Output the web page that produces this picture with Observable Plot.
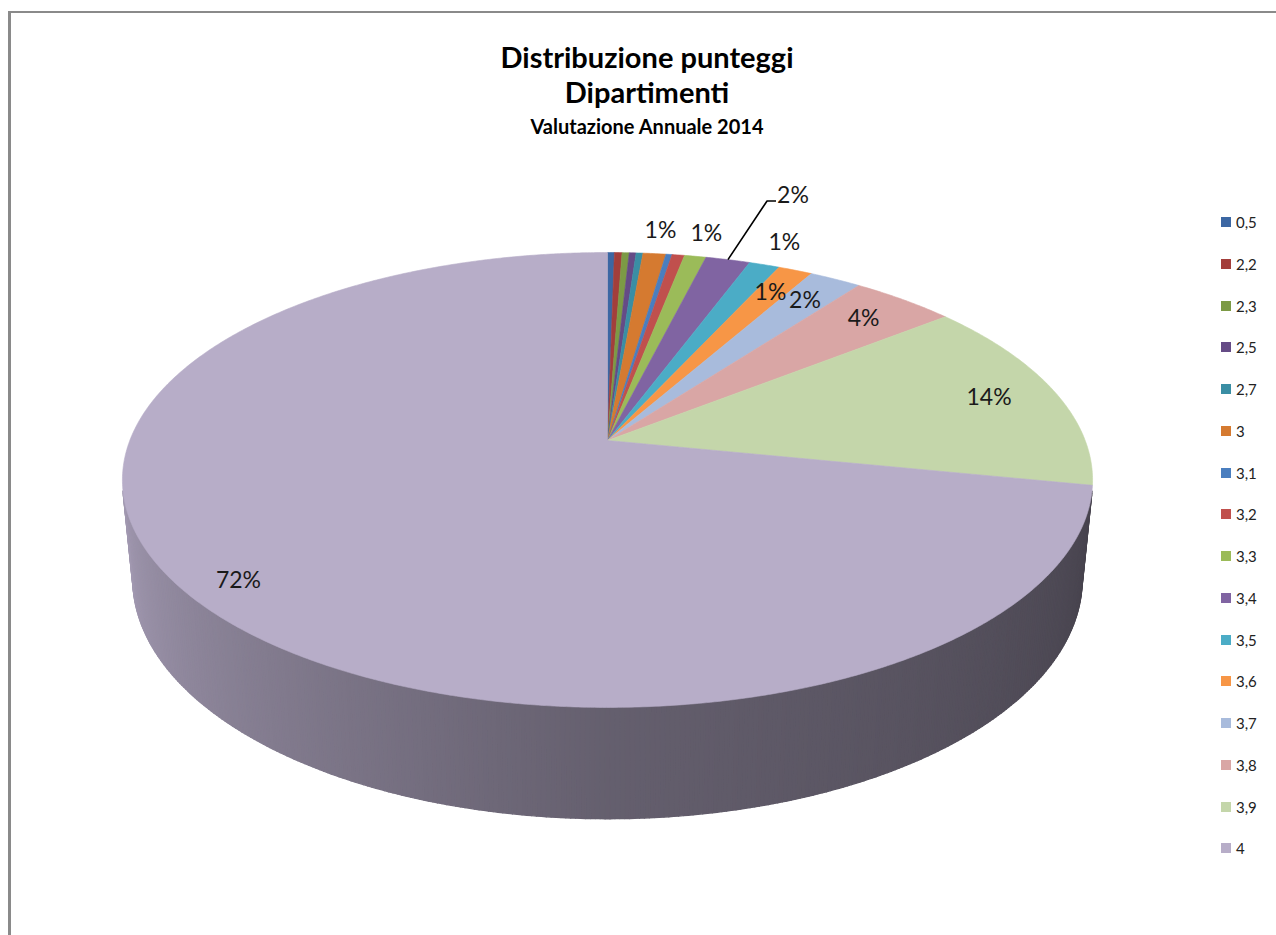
<!DOCTYPE html>
<html>
<head>
<meta charset="utf-8">
<script src="https://cdn.jsdelivr.net/npm/d3@7"></script>
<script src="https://cdn.jsdelivr.net/npm/@observablehq/plot@0.6"></script>
<style>
  html, body { margin: 0; padding: 0; background: #fff; }
  body { font-family: Lato, "Open Sans", "DejaVu Sans", sans-serif; color: #000; }
  #wrap { position: relative; width: 1276px; height: 935px; overflow: hidden; }
  #frame { position: absolute; left: 8px; top: 11px; width: 1400px; height: 1100px;
           border-left: 3px solid #8a8a8a; border-top: 2px solid #8a8a8a; box-sizing: border-box; }
  #chart { position: absolute; left: 0; top: 0; }
  .title { position: absolute; left: 0; width: 1294px; text-align: center; font-weight: bold; white-space: nowrap; }
  #t1 { top: 38px; font-size: 29px; line-height: 38px; }
  #t2 { top: 73px; font-size: 29px; line-height: 38px; }
  #t3 { top: 114px; font-size: 20px; line-height: 24px; }
  .lg { position: absolute; left: 1221px; height: 16px; display: flex; align-items: center; font-size: 15px; color: #222; }
  .lg i { display: inline-block; width: 10px; height: 10px; margin-right: 5px; }
</style>
</head>
<body>
<div id="wrap">
  <div id="frame"></div>
  <div id="chart"></div>
  <div class="title" id="t1">Distribuzione punteggi</div>
  <div class="title" id="t2">Dipartimenti</div>
  <div class="title" id="t3">Valutazione Annuale 2014</div>
  <div id="legend"></div>
</div>
<script>
// ---- data ----
const categories = ["0,5","2,2","2,3","2,5","2,7","3","3,1","3,2","3,3","3,4","3,5","3,6","3,7","3,8","3,9","4"];
const shares = [0.27, 0.30, 0.28, 0.27, 0.27, 0.90, 0.24, 0.49, 0.85, 1.75, 1.20, 1.35, 2.05, 4.10, 13.80, 71.80];
const colors = ["#3c67a3","#a33e3b","#7c9a45","#654b86","#3a8ea4","#d57a30",
                "#4a7ebf","#c0504d","#9bbb59","#8064a2","#4bacc6","#f79646",
                "#a8bbdc","#d9a6a5","#c4d6aa","#b7adc8"];
const outsideLabels = ["3","3,3","3,5"];
const leaderLabels = ["3,4"];

// ---- 3D perspective geometry ----
const deg = Math.PI / 180;
const alpha = 27.5 * deg;      // camera elevation
const D = 5.11;                // camera distance (in pie radii)
const T = 0.236;               // pie thickness (in pie radii)
const ca = Math.cos(alpha), sa = Math.sin(alpha);

function topUV(phi, r) {
  const X = r * Math.cos(phi), Y = r * Math.sin(phi);
  const w = D + Y * ca;
  return [X * D / w, Y * D / w];
}
function botUV(phi) {
  const X = Math.cos(phi), Y = Math.sin(phi);
  const w = D + Y * ca + T * sa;
  return [X * D / w, D * (Y * sa - T * ca) / (sa * w)];
}
const phiOf = a => Math.PI / 2 - a; // pie angle (clockwise from top) -> math angle

const rows = categories.map((c, i) => ({cat: c, value: shares[i], color: colors[i]}));
const total = d3.sum(rows, d => d.value);
const arcs = d3.pie().sort(null).value(d => d.value)(rows);

// top surface polygons
const topPts = [];
arcs.forEach((a, i) => {
  const id = "t" + i;
  topPts.push({id, color: a.data.color, u: 0, v: 0});
  const n = Math.max(2, Math.ceil((a.endAngle - a.startAngle) / (0.4 * deg)));
  for (let k = 0; k <= n; k++) {
    const ang = a.startAngle + (a.endAngle - a.startAngle) * k / n;
    const [u, v] = topUV(phiOf(ang), 1);
    topPts.push({id, color: a.data.color, u, v});
  }
  topPts.push({id, color: a.data.color, u: 0, v: 0});
});

// side wall (visible part between silhouettes)
const phiSil = Math.asin(-1 / (D * ca));          // right silhouette
const aStart = Math.PI / 2 - phiSil;              // pie angle, right
const aEnd = Math.PI / 2 - (-Math.PI - phiSil);   // pie angle, left
const breaks = d3.range(aStart, aEnd, 0.5 * deg).concat([aEnd]);
arcs.forEach(a => { [a.startAngle, a.endAngle].forEach(b => { if (b > aStart && b < aEnd) breaks.push(b); }); });
breaks.sort((p, q) => p - q);
const shade = d3.scaleLinear().domain([-167.25, -90, -12.75]).range([0.88, 0.55, 0.385]).clamp(true);
const wallPts = [];
for (let k = 0; k < breaks.length - 1; k++) {
  const a1 = breaks[k], a2 = breaks[k + 1];
  if (a2 - a1 < 1e-6) continue;
  const mid = (a1 + a2) / 2;
  const sl = arcs.find(a => mid >= a.startAngle && mid < a.endAngle) || arcs[arcs.length - 1];
  const f = shade(phiOf(mid) / deg);
  const c = d3.rgb(sl.data.color);
  const col = d3.rgb(c.r * f, c.g * f, c.b * f).formatHex();
  const id = "w" + k;
  const p1 = topUV(phiOf(a1), 1), p2 = topUV(phiOf(a2), 1), q2 = botUV(phiOf(a2)), q1 = botUV(phiOf(a1));
  [p1, p2, q2, q1, p1].forEach(([u, v]) => wallPts.push({id, color: col, u, v}));
}

// labels
const labels = [];
const leader = [];
arcs.forEach(a => {
  const pct = Math.round(a.data.value / total * 100);
  if (pct < 1) return;
  const phi = phiOf((a.startAngle + a.endAngle) / 2);
  const text = pct + "%";
  if (leaderLabels.includes(a.data.cat)) {
    const [u0, v0] = topUV(phi, 1.0);
    const [u1, v1] = topUV(phi, 1.40);
    leader.push({u: u0, v: v0}, {u: u1, v: v1}, {u: u1 + 9 / 477.7, v: v1});
    labels.push({u: u1, v: v1, text, anchor: "start"});
  } else if (outsideLabels.includes(a.data.cat)) {
    const [u, v] = topUV(phi, 1.15);
    labels.push({u, v, text, anchor: "middle"});
  } else {
    const r = a.data.value / total > 0.5 ? 0.9 : 0.85;
    const [u, v] = topUV(phi, r);
    labels.push({u, v, text, anchor: "middle"});
  }
});

const cx = 607, cy = 440, sx = 477.7, sy = 220.6;
const chart = Plot.plot({
  width: 1276,
  height: 935,
  margin: 0,
  style: {background: "transparent", fontFamily: "Lato, 'Open Sans', sans-serif"},
  x: {domain: [-1, 1], range: [cx - sx, cx + sx], axis: null},
  y: {domain: [-1, 1], range: [cy + sy, cy - sy], axis: null},
  color: {type: "identity"},
  marks: [
    Plot.line(wallPts, {x: "u", y: "v", z: "id", fill: "color", stroke: "color", strokeWidth: 1.4, curve: "linear"}),
    Plot.line(topPts, {x: "u", y: "v", z: "id", fill: "color", stroke: "color", strokeWidth: 0.6, curve: "linear"}),
    Plot.line(leader, {x: "u", y: "v", stroke: "#000", strokeWidth: 1.6, strokeLinecap: "butt", strokeLinejoin: "miter"}),
    Plot.text(labels.filter(d => d.anchor === "middle"), {x: "u", y: "v", text: "text", fontSize: 23, fill: "#1a1a1a", textAnchor: "middle"}),
    Plot.text(labels.filter(d => d.anchor === "start"), {x: "u", y: "v", text: "text", fontSize: 23, fill: "#1a1a1a", textAnchor: "start", dx: 10, dy: -5})
  ]
});
document.getElementById("chart").appendChild(chart);

// legend
const lg = document.getElementById("legend");
categories.forEach((c, i) => {
  const el = document.createElement("div");
  el.className = "lg";
  el.style.top = (222 - 8 + i * 41.75) + "px";
  el.innerHTML = `<i style="background:${colors[i]}"></i><span>${c}</span>`;
  lg.appendChild(el);
});
</script>
</body>
</html>
